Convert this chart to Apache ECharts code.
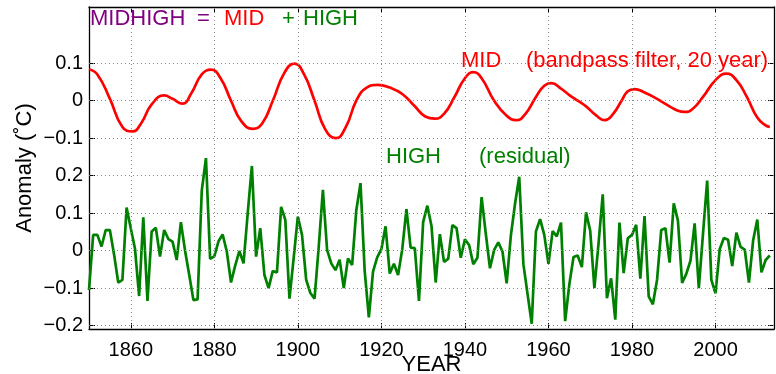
<!DOCTYPE html>
<html>
<head>
<meta charset="utf-8">
<script src="https://cdn.jsdelivr.net/npm/echarts@6/dist/echarts.min.js"></script>
<style>
html,body{margin:0;padding:0;background:#fff;}
#chart{width:776px;height:374px;}
</style>
</head>
<body>
<div id="chart"></div>
<script>
// ---- DATA ----
const startYear = 1850;
const endYear = 2013;
// HIGH (residual), yearly values 1850..2013
const highValues = [
 -0.105, 0.042, 0.042, 0.011, 0.055, 0.055, -0.010, -0.085, -0.078, 0.115,
  0.060, 0.006, -0.121, 0.089, -0.134, 0.051, 0.061, -0.016, 0.055, 0.031,
  0.024, -0.025, 0.076, 0.000, -0.065, -0.132, -0.130, 0.160, 0.247, -0.022,
 -0.015, 0.025, 0.043, -0.003, -0.085, -0.040, -0.001, -0.034, 0.100, 0.226,
 -0.016, 0.060, -0.065, -0.100, -0.054, -0.058, 0.117, 0.082, -0.128, -0.020,
  0.091, 0.042, -0.078, -0.113, -0.128, 0.010, 0.162, 0.002, -0.034, -0.052,
 -0.024, -0.100, -0.021, -0.038, 0.108, 0.180, -0.053, -0.178, -0.056, -0.018,
  0.004, 0.065, -0.061, -0.035, -0.065, 0.004, 0.111, 0.008, 0.007, -0.134,
  0.076, 0.120, 0.066, -0.085, 0.044, -0.030, -0.022, 0.068, 0.060, -0.019,
  0.030, 0.015, -0.036, -0.019, 0.143, 0.045, -0.047, 0.002, 0.022, -0.003,
 -0.087, 0.040, 0.125, 0.197, -0.036, -0.116, -0.195, 0.051, 0.084, 0.042,
 -0.035, 0.052, 0.038, 0.075, -0.188, -0.090, -0.017, -0.013, -0.044, 0.102,
  0.053, -0.100, 0.020, 0.150, -0.127, -0.074, -0.184, 0.075, -0.060, 0.033,
  0.042, 0.069, -0.075, 0.092, -0.122, -0.143, -0.078, 0.055, 0.060, -0.032,
  0.126, 0.080, -0.086, -0.062, -0.027, 0.073, -0.100, 0.045, 0.187, -0.078,
 -0.114, 0.004, 0.034, 0.029, -0.041, 0.048, 0.010, 0.003, -0.085, 0.027,
  0.083, -0.058, -0.025, -0.013
];
// MID (bandpass filter, 20 year): points
const midYears = [
 1850, 1852, 1855, 1858, 1860.4, 1862.5, 1865, 1868, 1870, 1872.4,
 1874.5, 1877, 1879.2, 1881.5, 1884, 1886.5, 1889.2, 1891.5, 1894, 1896.8,
 1899.2, 1901.5, 1904, 1906.5, 1909.1, 1911.5, 1914, 1916.5, 1919.1, 1922,
 1925, 1928, 1930.5, 1932.8, 1935, 1937.5, 1940, 1942, 1944, 1947,
 1950, 1952.3, 1954.5, 1957, 1959, 1960.7, 1963, 1965, 1967, 1969,
 1971.5, 1973.5, 1975.5, 1977.5, 1979, 1980.6, 1983, 1986, 1989, 1991,
 1992.6, 1994.5, 1997, 2000, 2002.6, 2005, 2007.5, 2010, 2012, 2013
];
const midValues = [
 0.084, 0.070, 0.005, -0.070, -0.082, -0.060, -0.010, 0.014, 0.005, -0.008,
 0.020, 0.070, 0.083, 0.060, 0.000, -0.055, -0.075, -0.060, 0.000, 0.075,
 0.099, 0.070, 0.000, -0.075, -0.100, -0.070, 0.000, 0.035, 0.042, 0.035,
 0.018, -0.015, -0.042, -0.048, -0.035, 0.010, 0.060, 0.076, 0.060, 0.000,
 -0.040, -0.052, -0.035, 0.010, 0.040, 0.047, 0.032, 0.015, 0.000, -0.015,
 -0.040, -0.052, -0.035, 0.000, 0.025, 0.031, 0.022, 0.005, -0.015, -0.027,
 -0.030, -0.022, 0.010, 0.055, 0.072, 0.055, 0.010, -0.045, -0.066, -0.070
];
const midOffset = 0.4;          // MID is drawn shifted up by 0.4
const yearTicks = [1860, 1880, 1900, 1920, 1940, 1960, 1980, 2000];
const yTicks = [-0.2, -0.1, 0, 0.1, 0.2, 0.3, 0.4, 0.5];

// ---- BUILD ----
const years = [];
for (let y = startYear; y <= endYear; y++) years.push(y);
const highData = years.map((y, i) => [y, highValues[i]]);
const midData = midYears.map((y, i) => [y, midValues[i] + midOffset]);

function fmtY(v) {
  let x = v > 0.25 ? v - midOffset : v;
  x = Math.round(x * 10) / 10;
  if (Math.abs(x) < 1e-9) return '0';
  const s = x.toFixed(1);
  return s.replace('-', '\u2212');
}

const XMIN = 1850, XMAX = 2014, YMIN = -0.209, YMAX = 0.65;
const axisLineBlack = { show: true, onZero: false, lineStyle: { color: '#000', width: 1.3 } };
const FONT = 'Liberation Sans, Arial, sans-serif';
const gridStyle = { color: '#888', width: 1, type: [1, 3] };

const gridLines = yearTicks.map(v => ({ xAxis: v })).concat(yTicks.map(v => ({ yAxis: v })));

const chart = echarts.init(document.getElementById('chart'), null, { renderer: 'canvas' });
chart.setOption({
  animation: false,
  backgroundColor: '#fff',
  grid: { left: 89, right: 2, top: 7, bottom: 45, outerBoundsMode: 'none', containLabel: false },
  xAxis: [
    {
      type: 'value', min: XMIN, max: XMAX, position: 'bottom',
      name: 'YEAR', nameLocation: 'middle', nameGap: 25, nameMoveOverlap: false,
      nameTextStyle: { fontSize: 22, color: '#000', fontFamily: FONT },
      axisLine: axisLineBlack,
      axisTick: { show: true, inside: true, length: 6, customValues: yearTicks, lineStyle: { color: '#000' } },
      axisLabel: { customValues: yearTicks, formatter: v => String(v), fontSize: 20, color: '#000', margin: 11, fontFamily: FONT },
      splitLine: { show: false }
    },
    {
      type: 'value', min: XMIN, max: XMAX, position: 'top',
      axisLine: axisLineBlack,
      axisTick: { show: true, inside: true, length: 6, customValues: yearTicks, lineStyle: { color: '#000' } },
      axisLabel: { show: false },
      splitLine: { show: false }
    }
  ],
  yAxis: [
    {
      type: 'value', min: YMIN, max: YMAX, position: 'left',
      name: 'Anomaly (\u02DAC)', nameLocation: 'middle', nameGap: 53, nameMoveOverlap: false,
      nameTextStyle: { fontSize: 22, color: '#000', fontFamily: FONT },
      axisLine: axisLineBlack,
      axisTick: { show: true, inside: true, length: 6, customValues: yTicks, lineStyle: { color: '#000' } },
      axisLabel: { customValues: yTicks, formatter: fmtY, fontSize: 20, color: '#000', margin: 6, fontFamily: FONT },
      splitLine: { show: false }
    },
    {
      type: 'value', min: YMIN, max: YMAX, position: 'right',
      axisLine: axisLineBlack,
      axisTick: { show: true, inside: true, length: 6, customValues: yTicks, lineStyle: { color: '#000' } },
      axisLabel: { show: false },
      splitLine: { show: false }
    }
  ],
  series: [
    {
      name: 'grid', type: 'line', xAxisIndex: 0, yAxisIndex: 0, data: [],
      markLine: { silent: true, symbol: ['none', 'none'], label: { show: false },
                  lineStyle: gridStyle, data: gridLines, animation: false },
      z: 1
    },
    {
      name: 'MID', type: 'line', xAxisIndex: 0, yAxisIndex: 0,
      data: midData, smooth: 0.5, showSymbol: false,
      lineStyle: { color: '#ff0000', width: 2.7 }, z: 3
    },
    {
      name: 'HIGH', type: 'line', xAxisIndex: 0, yAxisIndex: 0,
      data: highData, showSymbol: false,
      lineStyle: { color: '#008000', width: 2.7 }, z: 3
    }
  ],
  graphic: [
    { type: 'text', x: 90, y: 8, z: 10, style: { text: 'MIDHIGH', font: '22px ' + FONT, fill: '#800080' } },
    { type: 'text', x: 197, y: 8, z: 10, style: { text: '=', font: '22px ' + FONT, fill: '#800080' } },
    { type: 'text', x: 224, y: 8, z: 10, style: { text: 'MID', font: '22px ' + FONT, fill: '#ff0000' } },
    { type: 'text', x: 282, y: 8, z: 10, style: { text: '+', font: '22px ' + FONT, fill: '#008000' } },
    { type: 'text', x: 303, y: 8, z: 10, style: { text: 'HIGH', font: '22px ' + FONT, fill: '#008000' } },
    { type: 'text', x: 461, y: 50, z: 10, style: { text: 'MID', font: '22px ' + FONT, fill: '#ff0000' } },
    { type: 'text', x: 526, y: 50, z: 10, style: { text: '(bandpass filter, 20 year)', font: '22px ' + FONT, fill: '#ff0000' } },
    { type: 'text', x: 386, y: 146, z: 10, style: { text: 'HIGH', font: '22px ' + FONT, fill: '#008000' } },
    { type: 'text', x: 479, y: 146, z: 10, style: { text: '(residual)', font: '22px ' + FONT, fill: '#008000' } }
  ]
});
</script>
</body>
</html>
